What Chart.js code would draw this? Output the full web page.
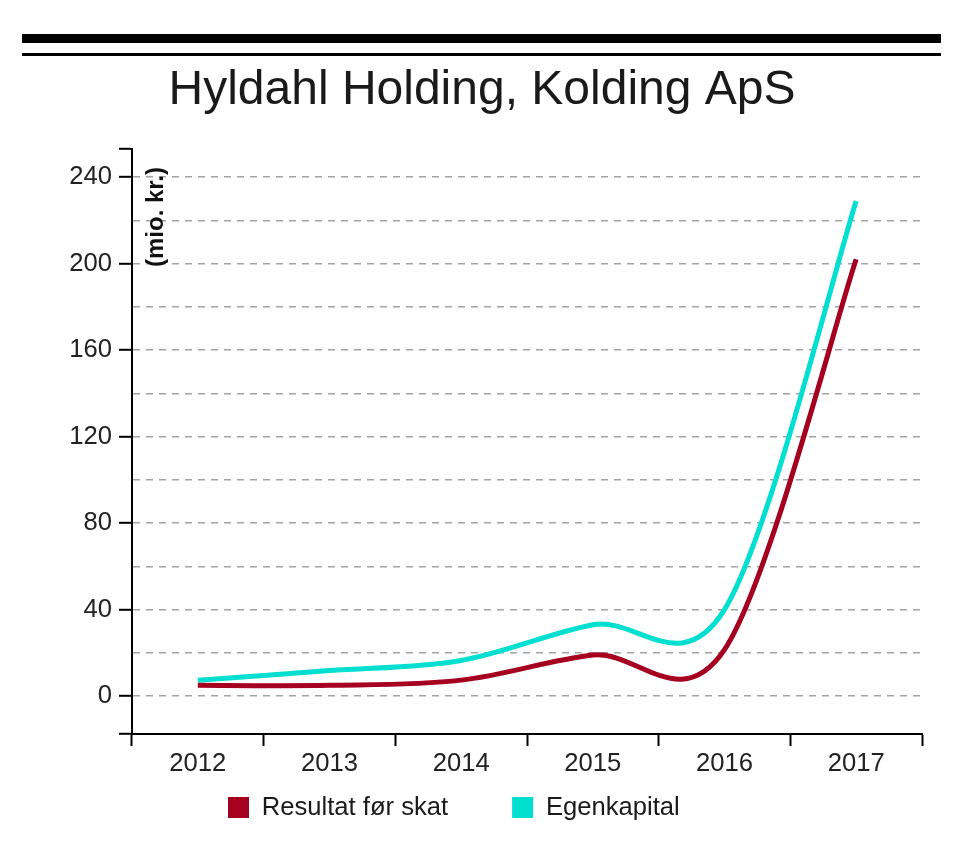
<!DOCTYPE html>
<html>
<head>
<meta charset="utf-8">
<script src="https://cdn.jsdelivr.net/npm/chart.js@4/dist/chart.umd.min.js"></script>
<style>
  html, body { margin: 0; padding: 0; background: #ffffff; }
  #wrap { position: relative; width: 960px; height: 854px; overflow: hidden; }
  #c { position: absolute; left: 0; top: 0; }
  .rule { position: absolute; left: 22px; width: 919px; background: #000; }
</style>
</head>
<body>
<div id="wrap">
  <canvas id="c" width="960" height="854"></canvas>
  <div class="rule" style="top:34px;height:9px;"></div>
  <div class="rule" style="top:53px;height:3px;"></div>
</div>
<script>
// ---- data ----
const years = ['2012', '2013', '2014', '2015', '2016', '2017'];
const resultatFoerSkat = [5, 5, 7.4, 19, 21.5, 202];
const egenkapital = [7.4, 11.8, 16.5, 33, 40, 229];
const yGridValues = [0, 20, 40, 60, 80, 100, 120, 140, 160, 180, 200, 220, 240];
const yLabelValues = [0, 40, 80, 120, 160, 200, 240];
const yMin = -17.5;
const yMax = 253;
const seriesNames = ['Resultat før skat', 'Egenkapital'];
const seriesColors = ['#a5001f', '#00dfd0'];
const chartTitle = 'Hyldahl Holding, Kolding ApS';
const yAxisTitle = '(mio. kr.)';

const FONT = "'Liberation Sans', Arial, Helvetica, sans-serif";

// uniform cardinal (Catmull-Rom) control points computed from the scale-placed points
const cardinalPlugin = {
  id: 'cardinal',
  beforeDatasetDraw(chart, args) {
    const meta = args.meta;
    const line = meta.dataset;
    const pts = meta.data;
    const k = 1 / 6;
    for (let i = 0; i < pts.length; i++) {
      const p = pts[i];
      const prev = pts[i - 1] || p;
      const next = pts[i + 1] || p;
      const dx = (next.x - prev.x) * k;
      const dy = (next.y - prev.y) * k;
      p.cp1x = p.x - dx; p.cp1y = p.y - dy;
      p.cp2x = p.x + dx; p.cp2y = p.y + dy;
    }
    line._pointsUpdated = true;
    line._path = undefined;
  }
};

// y-axis unit title drawn inside the plot next to the axis
const yTitlePlugin = {
  id: 'yTitle',
  afterDatasetsDraw(chart) {
    const ctx = chart.ctx;
    const a = chart.chartArea;
    ctx.save();
    ctx.translate(a.left + 24.5, a.top + 18);
    ctx.rotate(-Math.PI / 2);
    ctx.font = "bold 24px " + FONT;
    ctx.fillStyle = '#111';
    ctx.textAlign = 'right';
    ctx.textBaseline = 'middle';
    ctx.fillText(yAxisTitle, 0, 0);
    ctx.restore();
  }
};

// place legend row below the axis labels
const legendPlacePlugin = {
  id: 'legendPlace',
  afterLayout(chart) {
    const lg = chart.legend;
    if (!lg) return;
    const h = 124;
    lg.left = 164;
    lg.top = 730.7;
    lg.height = h;
    lg.bottom = lg.top + h;
  }
};

new Chart(document.getElementById('c'), {
  type: 'line',
  data: {
    labels: years,
    datasets: [
      {
        label: seriesNames[0],
        data: resultatFoerSkat,
        borderColor: seriesColors[0],
        backgroundColor: seriesColors[0],
        borderWidth: 5,
        pointRadius: 0,
        pointHoverRadius: 0,
        tension: 0.4,
        fill: false
      },
      {
        label: seriesNames[1],
        data: egenkapital,
        borderColor: seriesColors[1],
        backgroundColor: seriesColors[1],
        borderWidth: 5,
        pointRadius: 0,
        pointHoverRadius: 0,
        tension: 0.4,
        fill: false
      }
    ]
  },
  plugins: [cardinalPlugin, yTitlePlugin, legendPlacePlugin],
  options: {
    responsive: false,
    animation: false,
    events: [],
    layout: { padding: { top: 58, left: 42, right: 38, bottom: 1.3 } },
    plugins: {
      tooltip: { enabled: false },
      title: {
        display: true,
        text: chartTitle,
        color: '#1a1a1a',
        font: { family: FONT, size: 48, weight: 'normal', lineHeight: 1.2 },
        padding: { top: 4, bottom: 29.4 }
      },
      legend: {
        display: true,
        position: 'bottom',
        align: 'start',
        maxHeight: 70,
        labels: {
          boxWidth: 21,
          boxHeight: 21,
          padding: 64,
          color: '#1a1a1a',
          font: { family: FONT, size: 25.6 },
          generateLabels(chart) {
            const items = Chart.defaults.plugins.legend.labels.generateLabels(chart);
            items.forEach(it => { it.lineWidth = 0; });
            return items;
          }
        }
      }
    },
    scales: {
      x: {
        type: 'category',
        offset: true,
        grid: {
          offset: true,
          drawOnChartArea: false,
          tickLength: 12,
          tickColor: '#000',
          tickWidth: 2
        },
        border: { display: true, color: '#000', width: 2 },
        ticks: {
          color: '#222',
          padding: 3,
          maxRotation: 0,
          autoSkip: false,
          font: { family: FONT, size: 25.6 }
        }
      },
      y: {
        type: 'linear',
        min: yMin,
        max: yMax,
        afterFit(scale) { scale.width = 90; },
        afterBuildTicks(scale) {
          scale.ticks = [yMin].concat(yGridValues, [yMax]).map(v => ({ value: v }));
        },
        grid: {
          drawOnChartArea: true,
          tickLength: 13,
          tickWidth: 2,
          tickBorderDash: [],
          lineWidth: 1.6,
          color(ctx) {
            const v = ctx.tick && ctx.tick.value;
            return yGridValues.includes(v) ? '#a3a3a3' : 'rgba(0,0,0,0)';
          },
          tickColor(ctx) {
            const v = ctx.tick && ctx.tick.value;
            return (yLabelValues.includes(v) || v === yMin || v === yMax) ? '#000' : 'rgba(0,0,0,0)';
          }
        },
        border: { display: true, color: '#000', width: 2, dash: [7, 6] },
        ticks: {
          color: '#222',
          padding: 7,
          font: { family: FONT, size: 25.6 },
          callback(value) {
            return yLabelValues.includes(value) ? String(value) : '';
          }
        }
      }
    }
  }
});
</script>
</body>
</html>
